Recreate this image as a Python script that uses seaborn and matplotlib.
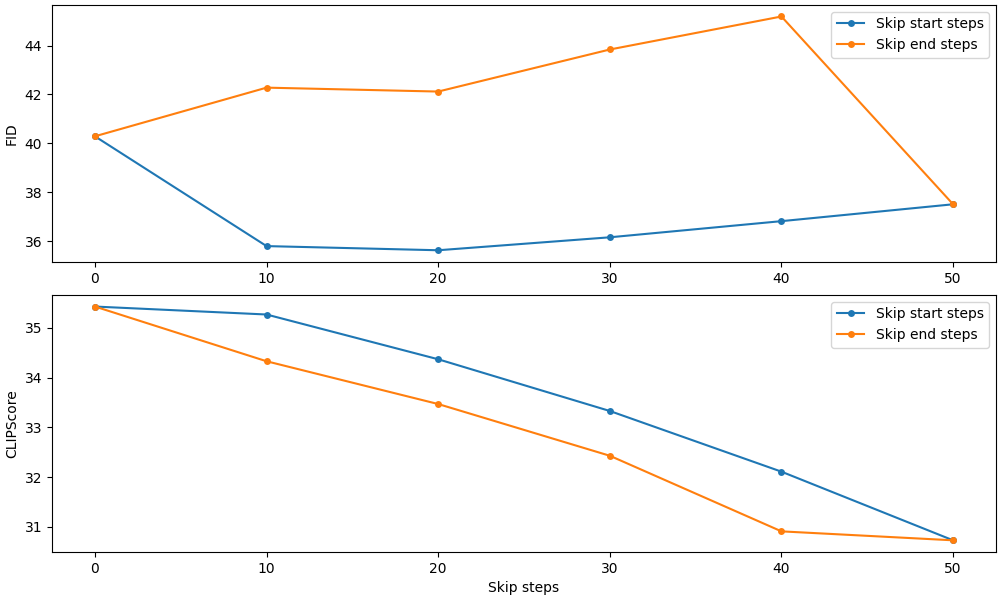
import pandas as pd
import numpy as np
import matplotlib
matplotlib.use("Agg")
import matplotlib.pyplot as plt
import seaborn as sns

skip_steps = [0, 10, 20, 30, 40, 50]

fid_start = [40.29, 35.80, 35.63, 36.16, 36.82, 37.51]
fid_end = [40.29, 42.28, 42.12, 43.84, 45.19, 37.51]

clip_start = [35.43, 35.27, 34.37, 33.33, 32.11, 30.73]
clip_end = [35.43, 34.33, 33.47, 32.43, 30.91, 30.73]

series_names = ["Skip start steps", "Skip end steps"]

fig, axes = plt.subplots(2, 1, figsize=(10, 6), dpi=100)

for ax, start, end, ylabel in [
    (axes[0], fid_start, fid_end, "FID"),
    (axes[1], clip_start, clip_end, "CLIPScore"),
]:
    df = pd.DataFrame({
        "Skip steps": skip_steps * 2,
        "value": start + end,
        "series": [series_names[0]] * len(start) + [series_names[1]] * len(end),
    })
    sns.lineplot(data=df, x="Skip steps", y="value", hue="series",
                 palette=["#1f77b4", "#ff7f0e"], marker="o", markersize=5,
                 markeredgewidth=0, ax=ax)
    ax.set_ylabel(ylabel)
    ax.legend(loc="upper right")

axes[0].set_xlabel("")
axes[1].set_xlabel("Skip steps")

plt.subplots_adjust(left=0.052, right=0.996, top=0.992, bottom=0.08, hspace=0.128)
plt.savefig("out.png")
